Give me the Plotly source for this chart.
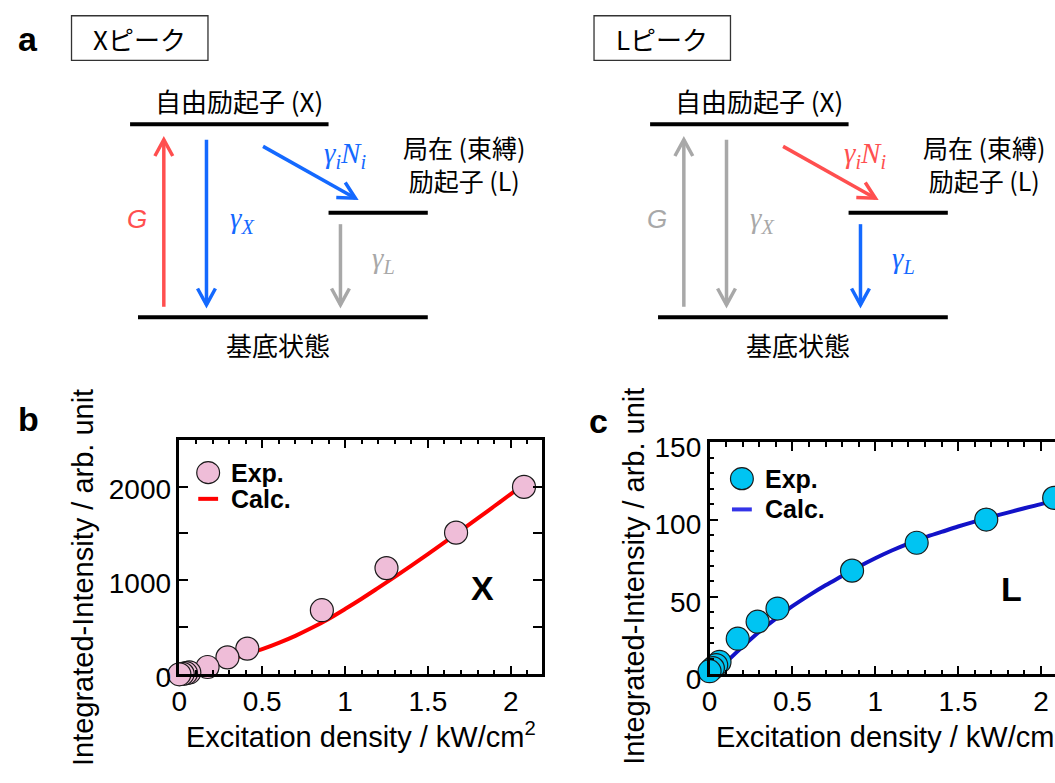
import math
import plotly.graph_objects as go

# ---------------- data ----------------
excitation = [0, 0.02, 0.04, 0.06, 0.17, 0.29, 0.41, 0.86, 1.25, 1.67, 2.08]
x_peak_exp = [0, 5, 12, 20, 78, 180, 274, 683, 1131, 1509, 1996]
l_peak_exp = [2, 4, 6, 8, 23, 34, 42.5, 67, 85, 100, 114]

x_calc_exc = [0, 0.1, 0.2, 0.3, 0.4, 0.5, 0.6, 0.7, 0.8, 0.9, 1.0,
              1.1, 1.2, 1.3, 1.4, 1.5, 1.6, 1.7, 1.8, 1.9, 2.0, 2.06]
x_peak_calc = [0, 50, 102, 155, 210, 268, 335, 410, 495, 590, 695,
               805, 920, 1037, 1157, 1280, 1405, 1532, 1660, 1790, 1920, 2000]

l_calc_exc = [0, 0.1, 0.2, 0.3, 0.4, 0.5, 0.6, 0.7, 0.8, 0.9, 1.0,
              1.1, 1.2, 1.3, 1.4, 1.5, 1.6, 1.7, 1.8, 1.9, 2.0, 2.1]
l_peak_calc = [0, 8, 18, 27.5, 36, 44, 51, 57.5, 63.5, 69.5, 75,
               80, 84.5, 88.5, 92, 95.5, 98.7, 101.7, 104.5, 107.3, 110, 112.5]

x_ticks = [0, 0.5, 1, 1.5, 2]
x_tick_text = ["0", "0.5", "1", "1.5", "2"]
yb_ticks = [0, 500, 1000, 1500, 2000]
yb_tick_text = ["0", "", "1000", "", "2000"]
yc_ticks = [0, 50, 100, 150]
yc_tick_text = ["0", "50", "100", "150"]

# ---------------- page geometry ----------------
W, H = 1055, 783
SANS = "Liberation Sans, Arial, sans-serif"
JP = "Noto Sans CJK JP, sans-serif"
MATH = "Liberation Serif, serif"

RED = "#FF4F4F"
BLUE = "#1469FF"
GRAY = "#A8A8A8"
PINK = "#EFBDD8"
CYAN = "#00C4F2"


def fx(px):
    return px / W


def fy(py):
    return 1 - py / H


shapes = []
annotations = []


def hline(x0, x1, y, color="black", width=4):
    shapes.append(dict(type="line", xref="paper", yref="paper",
                       x0=fx(x0), x1=fx(x1), y0=fy(y), y1=fy(y),
                       line=dict(color=color, width=width)))


def arrow(x0, y0, x1, y1, color, width=3.5, back=17, side=9):
    shapes.append(dict(type="line", xref="paper", yref="paper",
                       x0=fx(x0), y0=fy(y0), x1=fx(x1), y1=fy(y1),
                       line=dict(color=color, width=width)))
    L = math.hypot(x1 - x0, y1 - y0)
    ux, uy = (x1 - x0) / L, (y1 - y0) / L
    nx, ny = -uy, ux
    ax, ay = x1 - ux * back + nx * side, y1 - uy * back + ny * side
    bx, by = x1 - ux * back - nx * side, y1 - uy * back - ny * side
    path = (f"M {fx(ax)} {fy(ay)} L {fx(x1)} {fy(y1)} L {fx(bx)} {fy(by)}")
    shapes.append(dict(type="path", xref="paper", yref="paper", path=path,
                       line=dict(color=color, width=width)))


def text(x, y, s, size, color="black", family=SANS, angle=0, bold=False):
    annotations.append(dict(
        x=fx(x), y=fy(y), xref="paper", yref="paper", text=s, showarrow=False,
        xanchor="center", yanchor="middle", textangle=angle, align="center",
        font=dict(family=family, size=size, color=color,
                  weight="bold" if bold else "normal")))


def box(x0, y0, x1, y1):
    shapes.append(dict(type="rect", xref="paper", yref="paper",
                       x0=fx(x0), x1=fx(x1), y0=fy(y1), y1=fy(y0),
                       line=dict(color="#333333", width=1.3)))


# ---------------- panel a: level schemes ----------------
def scheme(dx, title, box_x0, c_g, c_x, c_i, c_l):
    box(box_x0, 6, box_x0 + 137.5, 52.5)
    text(box_x0 + 68.5, 30, title, 26, family=JP)
    hline(123 + dx, 323 + dx, 119)
    hline(323 + dx, 423 + dx, 211)
    hline(131 + dx, 423 + dx, 320)
    arrow(157 + dx, 309, 157 + dx, 135, c_g)
    arrow(200 + dx, 135, 200 + dx, 307, c_x)
    arrow(257 + dx, 142, 350 + dx, 196, c_i)
    arrow(335 + dx, 223, 335 + dx, 307, c_l)
    text(130 + dx, 218, "<i>G</i>", 26, color=c_g)
    text(236 + dx, 219, "<i>γ</i><sub><i>X</i></sub>", 29, color=c_x, family=MATH)
    text(340 + dx, 151, "<i>γ</i><sub><i>i</i></sub><i>N</i><sub><i>i</i></sub>",
         29, color=c_i, family=MATH)
    text(378 + dx, 260, "<i>γ</i><sub><i>L</i></sub>", 29, color=c_l, family=MATH)
    text(233 + dx, 94, "自由励起子 (X)", 26, family=JP)
    text(460 + dx, 160, "局在 (束縛)<br>励起子 (L)", 25, family=JP)
    text(272 + dx, 348, "基底状態", 26, family=JP)


scheme(0, "Xピーク", 64, RED, BLUE, BLUE, GRAY)
scheme(524, "Lピーク", 590.5, GRAY, GRAY, RED, BLUE)

text(20, 30, "a", 34, bold=True)
text(21, 426, "b", 34, bold=True)
text(595, 428, "c", 34, bold=True)

# ---------------- panels b, c ----------------
fig = go.Figure()

fig.add_trace(go.Scatter(x=x_calc_exc, y=x_peak_calc, mode="lines",
                         line=dict(color="#FF0000", width=4, shape="spline"),
                         xaxis="x", yaxis="y", name="Calc."))
fig.add_trace(go.Scatter(x=excitation[::-1], y=x_peak_exp[::-1], mode="markers",
                         marker=dict(size=23, color=PINK,
                                     line=dict(color="#1a1a1a", width=1.2)),
                         cliponaxis=False, xaxis="x", yaxis="y", name="Exp."))
fig.add_trace(go.Scatter(x=l_calc_exc, y=l_peak_calc, mode="lines",
                         line=dict(color="#1212C8", width=4, shape="spline"),
                         cliponaxis=False, xaxis="x2", yaxis="y2", name="Calc."))
fig.add_trace(go.Scatter(x=excitation[::-1], y=l_peak_exp[::-1], mode="markers",
                         marker=dict(size=23, color=CYAN,
                                     line=dict(color="#1a1a1a", width=1.2)),
                         cliponaxis=False, xaxis="x2", yaxis="y2", name="Exp."))

common = dict(showline=True, linewidth=2.5, linecolor="black", ticks="inside",
              ticklen=9, tickwidth=2, tickcolor="black", showgrid=False,
              zeroline=False, tickfont=dict(family=SANS, size=28, color="black"))
minor_x = dict(tickmode="linear", tick0=0, dtick=0.1, ticklen=5, tickwidth=2,
               ticks="inside", tickcolor="black", showgrid=False)

bx0, bx1 = 172.7, 538.3
px_per_unit = (bx1 - bx0) / 2.19
c_xmax = 2.085
cx0 = W - c_xmax * px_per_unit

fig.update_layout(
    xaxis=dict(domain=[fx(bx0), fx(bx1)], range=[0, 2.19], mirror="ticks",
               tickmode="array", tickvals=x_ticks, ticktext=x_tick_text,
               minor=minor_x, anchor="y", **common),
    yaxis=dict(domain=[fy(691.7), fy(447.3)], range=[0, 2500], mirror="ticks",
               tickmode="array", tickvals=yb_ticks, ticktext=yb_tick_text,
               ticklabelshift=3, anchor="x", **common),
    xaxis2=dict(domain=[fx(cx0), 1.0], range=[0, c_xmax],
                mirror="ticks", tickmode="array", tickvals=x_ticks,
                ticktext=x_tick_text, minor=minor_x, anchor="y2", **common),
    yaxis2=dict(domain=[fy(691.7), fy(450)], range=[0, 150], mirror=False,
                tickmode="array", tickvals=yc_ticks, ticktext=yc_tick_text,
                ticklabelshift=5, anchor="x2",
                minor=dict(tickmode="linear", tick0=0, dtick=10, ticklen=5,
                           tickwidth=2, ticks="inside", tickcolor="black"),
                **common),
)

# axis titles
xt = "Excitation density / kW/cm<sup>2</sup>"
yt = "Integrated-Intensity / arb. unit"
text((bx0 + bx1) / 2, 755, xt, 29)
text(cx0 + (bx1 - bx0) / 2, 755, xt, 29)
text(75, 591, yt, 29, angle=-90)
text(630, 590, yt, 29, angle=-90)

# peak labels
text(478, 602, "X", 34, bold=True)
text(1011, 603, "L", 34, bold=True)


# legends
def legend(x_mark, y_exp, y_calc, face, line_color):
    r = 11.5
    shapes.append(dict(type="circle", xref="paper", yref="paper",
                       x0=fx(x_mark - r), x1=fx(x_mark + r),
                       y0=fy(y_exp + r), y1=fy(y_exp - r),
                       fillcolor=face, line=dict(color="#1a1a1a", width=1.2)))
    hline(x_mark - 10, x_mark + 10, y_calc, color=line_color, width=4)
    for y, s in ((y_exp, "Exp."), (y_calc, "Calc.")):
        annotations.append(dict(x=fx(x_mark + 21), y=fy(y), xref="paper",
                                yref="paper", text=s, showarrow=False,
                                xanchor="left", yanchor="middle",
                                font=dict(family=SANS, size=25, color="black",
                                          weight="bold")))


legend(201.7, 481.7, 509, PINK, "#FF0000")
legend(739.5, 488, 520, CYAN, "#3434E8")

fig.update_layout(width=W, height=H, margin=dict(l=0, r=0, t=0, b=0),
                  paper_bgcolor="white", plot_bgcolor="white",
                  showlegend=False, shapes=shapes, annotations=annotations)

fig.write_html("out.html")
